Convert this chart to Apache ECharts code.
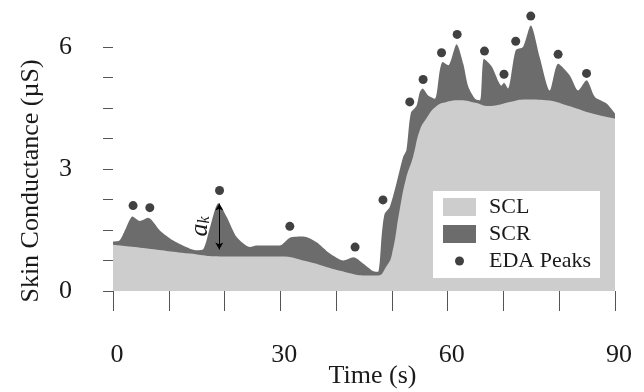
<!DOCTYPE html>
<html>
<head>
<meta charset="utf-8">
<script src="https://cdn.jsdelivr.net/npm/echarts@6/dist/echarts.min.js"></script>
<style>
html, body { margin: 0; padding: 0; background: #fff; }
#myChart { width: 644px; height: 392px; }
</style>
</head>
<body>
<div id="myChart"></div>
<script>
// skin conductance signal (top of the dark area)
const edaTime = [0, 1.2, 2.4, 3.5, 4.8, 6.3, 8.4, 10.8, 13.8, 15.0, 16.2, 17.4, 18.9, 20.4, 22.2, 24.6, 25.7, 29.9,
  31.7, 34.1, 36.5, 38.9, 41.3, 43.1, 44.9, 46.6, 47.5, 48.2, 48.7, 49.6, 50.8, 52.0, 52.6, 53.4, 54.4, 55.0,
  55.5, 56.5, 57.7, 58.6, 59.1, 60.1, 61.6, 62.8, 63.7, 64.9, 65.8, 66.5, 67.9, 69.1, 69.6, 70.1, 70.8, 72.2,
  73.5, 74.9, 76.5, 78.3, 79.8, 81.9, 83.4, 84.9, 86.4, 88.5, 90]
const edaValue = [1.22, 1.25, 1.57, 1.83, 1.72, 1.80, 1.49, 1.24, 1.04, 1.00, 1.03, 1.57, 2.16, 1.82, 1.32, 1.08, 1.12, 1.12,
  1.31, 1.34, 1.20, 0.92, 0.75, 0.83, 0.67, 0.49, 0.47, 1.41, 1.90, 2.06, 2.64, 3.29, 3.46, 4.38, 4.55, 4.89,
  4.98, 4.81, 4.73, 5.43, 5.63, 5.55, 6.07, 5.59, 5.02, 4.73, 4.69, 5.71, 5.52, 5.15, 5.05, 5.12, 4.98, 5.92,
  6.00, 6.53, 5.75, 4.93, 5.59, 5.30, 4.93, 5.18, 4.77, 4.61, 4.36]

// tonic level
const sclTime = [0, 5.4, 13.8, 19.2, 30, 34.7, 40.7, 46, 47.5, 49, 50, 51.4, 52.5, 53.8, 55, 56.2, 58, 59.8,
  62.2, 65.2, 67, 68.8, 71.1, 74.1, 77.7, 81.3, 86.1, 90]
const sclValue = [1.14, 1.06, 0.92, 0.85, 0.85, 0.73, 0.50, 0.38, 0.38, 0.60, 0.90, 2.00, 2.75, 3.30, 3.95, 4.25, 4.55, 4.65,
  4.69, 4.62, 4.55, 4.57, 4.65, 4.71, 4.69, 4.57, 4.36, 4.24]

// detected peaks
const peakTime = [3.6, 6.6, 19.1, 31.7, 43.4, 48.4, 53.2, 55.6, 58.9, 61.7, 66.6, 70.1, 72.2, 74.9, 79.8, 84.9]
const peakValue = [2.10, 2.05, 2.47, 1.59, 1.08, 2.24, 4.65, 5.20, 5.86, 6.31, 5.90, 5.33, 6.14, 6.76, 5.82, 5.35]

// amplitude arrow a_k
const arrowTime = 19.05
const arrowFrom = 1.02
const arrowTo = 2.15

const xTickLabels = [0, 30, 60, 90]
const yTickLabels = [0, 3, 6]

const zip = (a, b) => a.map((t, i) => [t, b[i]])

const font = 'Liberation Serif'
const textColor = '#1a1a1a'
const tickColor = '#555'

const chart = echarts.init(document.getElementById('myChart'))
chart.setOption({
  animation: false,
  grid: {
    left: 113,
    right: 29,
    top: 47,
    bottom: 101,
    containLabel: false,
    outerBoundsMode: 'none',
  },
  legend: {
    left: 433,
    top: 191,
    orient: 'vertical',
    backgroundColor: '#fff',
    padding: [5, 9, 6, 10],
    itemGap: 5,
    itemWidth: 33,
    itemHeight: 18,
    itemStyle: { borderWidth: 0 },
    textStyle: {
      fontFamily: font,
      fontSize: 22,
      color: textColor,
      padding: [0, 0, 0, 8],
    },
    data: [
      { name: 'SCL', icon: 'rect' },
      { name: 'SCR', icon: 'rect' },
      { name: 'EDA Peaks', icon: 'path://M0,0M33,18M12,9a4.5,4.5 0 1,0 9,0a4.5,4.5 0 1,0 -9,0Z' },
    ],
  },
  xAxis: {
    type: 'value',
    min: 0,
    max: 90,
    interval: 10,
    offset: 11,
    splitLine: { show: false },
    axisLine: { show: false },
    axisTick: {
      show: true,
      length: 20,
      lineStyle: { color: tickColor, width: 1 },
    },
    axisLabel: {
      margin: 40,
      fontFamily: font,
      fontSize: 26,
      color: textColor,
      verticalAlign: 'top',
      padding: [0, 0, 0, 8],
      formatter: v => (xTickLabels.indexOf(v) >= 0 ? String(v) : ''),
    },
    name: 'Time (s)',
    nameLocation: 'middle',
    nameGap: 61,
    nameMoveOverlap: false,
    nameTextStyle: {
      fontFamily: font,
      fontSize: 26,
      color: textColor,
      padding: [0, 0, 0, 17],
    },
  },
  yAxis: {
    type: 'value',
    min: 0,
    max: 6,
    interval: 0.75,
    offset: 13,
    splitLine: { show: false },
    axisLine: { show: false },
    axisTick: {
      show: true,
      length: 10,
      lineStyle: { color: tickColor, width: 1 },
    },
    axisLabel: {
      margin: 28,
      fontFamily: font,
      fontSize: 26,
      color: textColor,
      formatter: v => (yTickLabels.indexOf(v) >= 0 ? String(v) : ''),
    },
    name: 'Skin Conductance (\u00b5S)',
    nameLocation: 'middle',
    nameGap: 56,
    nameMoveOverlap: false,
    nameTextStyle: {
      fontFamily: font,
      fontSize: 26,
      color: textColor,
      padding: [0, 24, 0, 0],
    },
  },
  series: [
    {
      name: 'SCR',
      type: 'line',
      data: zip(edaTime, edaValue),
      color: '#6c6c6c',
      showSymbol: false,
      symbol: 'none',
      smooth: 0.25,
      clip: false,
      lineStyle: { width: 0 },
      areaStyle: { color: '#6c6c6c', opacity: 1 },
      z: 1,
    },
    {
      name: 'SCL',
      type: 'line',
      data: zip(sclTime, sclValue),
      color: '#cdcdcd',
      showSymbol: false,
      symbol: 'none',
      smooth: 0.5,
      clip: false,
      lineStyle: { width: 0 },
      areaStyle: { color: '#cdcdcd', opacity: 1 },
      z: 2,
    },
    {
      name: 'EDA Peaks',
      type: 'scatter',
      data: zip(peakTime, peakValue),
      color: '#111',
      symbolSize: 9,
      clip: false,
      z: 3,
      markLine: {
        silent: true,
        symbol: ['arrow', 'arrow'],
        symbolSize: [6, 7],
        lineStyle: { color: '#000', width: 1, type: 'solid' },
        label: {
          show: true,
          position: 'insideMiddleTop',
          distance: 6,
          formatter: '{a|a}{k|k}',
          rich: {
            a: { fontFamily: font, fontStyle: 'italic', fontSize: 26, color: textColor },
            k: { fontFamily: font, fontStyle: 'italic', fontSize: 16, color: textColor, verticalAlign: 'bottom' },
          },
        },
        data: [[{ coord: [arrowTime, arrowFrom] }, { coord: [arrowTime, arrowTo] }]],
      },
    },
  ],
})
</script>
</body>
</html>
